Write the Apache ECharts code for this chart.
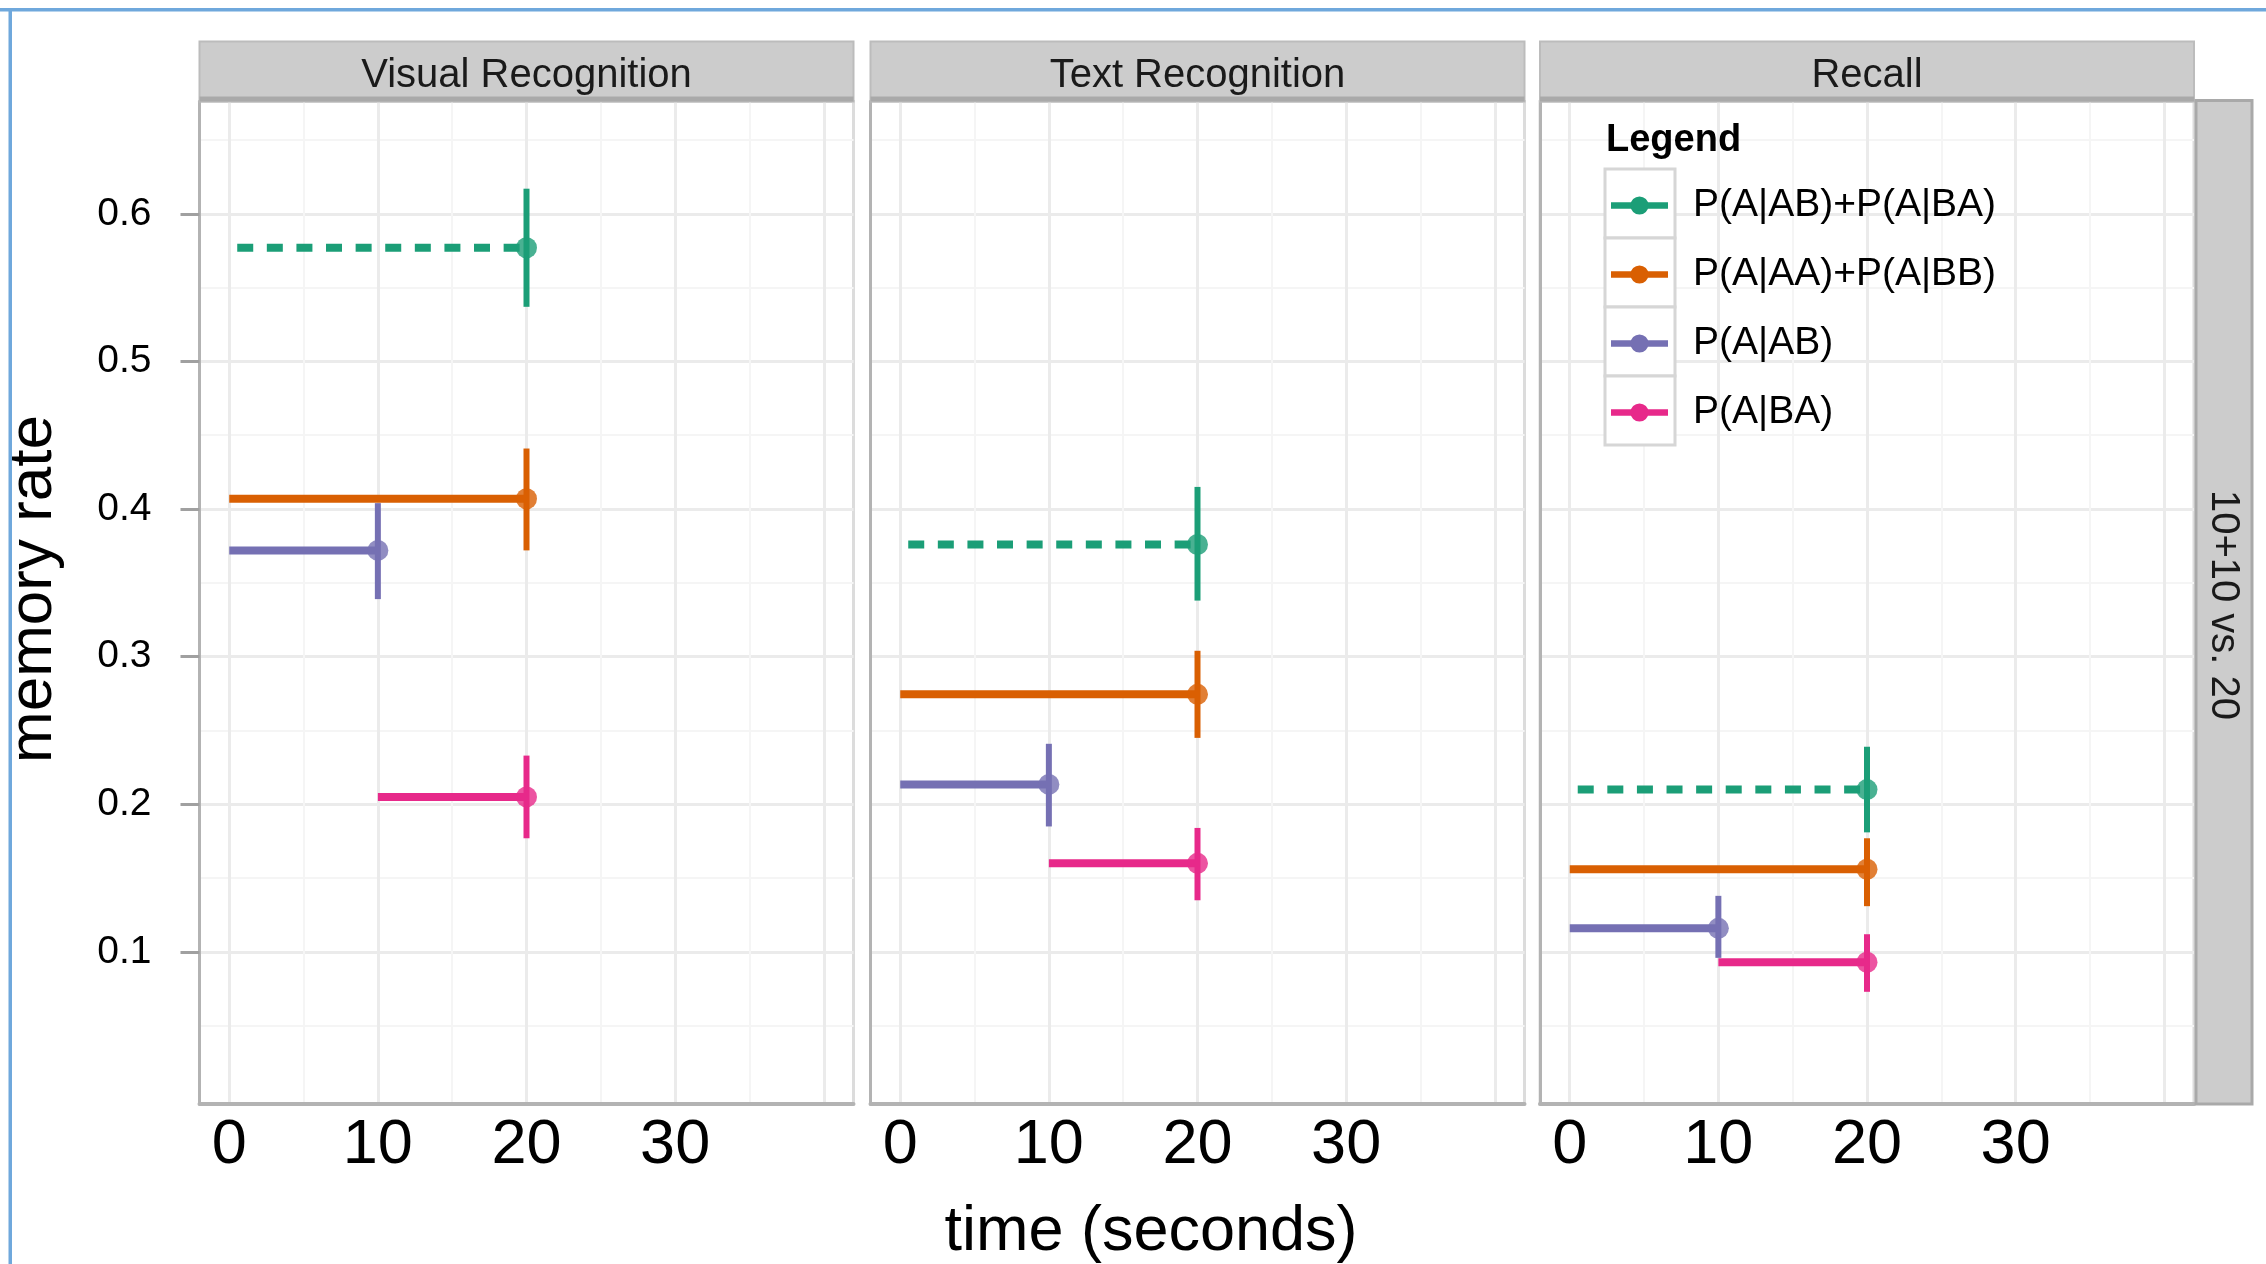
<!DOCTYPE html>
<html>
<head>
<meta charset="utf-8">
<script src="https://cdn.jsdelivr.net/npm/echarts@6/dist/echarts.min.js"></script>
<style>
html,body{margin:0;padding:0;background:#ffffff;}
#chart{width:2266px;height:1264px;}
</style>
</head>
<body>
<div id="chart"></div>
<script>
// ---------------- data ----------------
const panels = ['Visual Recognition', 'Text Recognition', 'Recall'];
const rowLabel = '10+10 vs. 20';
const groups = ['P(A|AB)+P(A|BA)', 'P(A|AA)+P(A|BB)', 'P(A|AB)', 'P(A|BA)'];
const startTimes = [0, 0, 0, 10];
const endTimes = [20, 20, 10, 20];

const visualRate = [0.577, 0.407, 0.372, 0.205];
const visualLow  = [0.537, 0.372, 0.339, 0.177];
const visualHigh = [0.617, 0.441, 0.404, 0.233];

const textRate = [0.376, 0.2745, 0.2135, 0.160];
const textLow  = [0.338, 0.245, 0.185, 0.135];
const textHigh = [0.415, 0.304, 0.241, 0.184];

const recallRate = [0.210, 0.156, 0.116, 0.093];
const recallLow  = [0.181, 0.131, 0.096, 0.073];
const recallHigh = [0.239, 0.177, 0.138, 0.112];

const xTickLabels = [0, 10, 20, 30];
const xMajorGrid = [0, 10, 20, 30, 40];
const xMinorGrid = [5, 15, 25, 35];
const yTickLabels = [0.1, 0.2, 0.3, 0.4, 0.5, 0.6];
const yMinorGrid = [0.05, 0.15, 0.25, 0.35, 0.45, 0.55, 0.65];

const xTitle = 'time (seconds)';
const yTitle = 'memory rate';
const legendTitle = 'Legend';

// ---------------- style / layout ----------------
const FONT = '"Liberation Sans", Arial, Helvetica, sans-serif';
const colors = ['#1b9e77', '#d95f02', '#7570b3', '#e7298a'];
const panelLeft = [199.5, 870.5, 1540];
const panelWidth = 654;
const panelTop = 101.6;
const panelBottom = 1104;
const stripTop = 41.5;
const xRange = [-2, 42];
const yRange = [-0.003, 0.676];

const rates = [visualRate, textRate, recallRate];
const lows = [visualLow, textLow, recallLow];
const highs = [visualHigh, textHigh, recallHigh];

const chart = echarts.init(document.getElementById('chart'), null, {renderer: 'canvas'});

const grids = [], xAxes = [], yAxes = [], series = [];
for (let p = 0; p < panels.length; p++) {
  grids.push({
    left: panelLeft[p], top: panelTop, width: panelWidth, height: panelBottom - panelTop,
    show: true, backgroundColor: '#ffffff', borderColor: '#dcdcdc', borderWidth: 3
  });
  xAxes.push({
    gridIndex: p, type: 'value', min: xRange[0], max: xRange[1], position: 'bottom',
    axisLine: {show: true, onZero: false, lineStyle: {color: '#b3b3b3', width: 4}},
    axisTick: {show: false, customValues: xMajorGrid},
    axisLabel: {customValues: xTickLabels, fontSize: 63, color: '#000', margin: 10, fontFamily: FONT},
    splitLine: {show: true, lineStyle: {color: '#ebebeb', width: 3}}
  });
  xAxes.push({
    gridIndex: p, type: 'value', min: xRange[0], max: xRange[1], position: 'top',
    axisLine: {show: false}, axisTick: {show: false, customValues: xMinorGrid},
    axisLabel: {show: false},
    splitLine: {show: true, lineStyle: {color: '#f5f5f5', width: 2}}
  });
  yAxes.push({
    gridIndex: p, type: 'value', min: yRange[0], max: yRange[1], position: 'left',
    axisLine: {show: true, onZero: false, lineStyle: {color: '#b3b3b3', width: 3}},
    axisTick: {show: p === 0, length: 19, lineStyle: {color: '#a0a0a0', width: 3}, customValues: yTickLabels},
    axisLabel: {show: p === 0, customValues: yTickLabels, fontSize: 39, color: '#000', margin: 48,
                fontFamily: FONT, padding: [10, 0, 0, 0]},
    splitLine: {show: true, lineStyle: {color: '#ebebeb', width: 3}}
  });
  yAxes.push({
    gridIndex: p, type: 'value', min: yRange[0], max: yRange[1], position: 'right',
    axisLine: {show: false}, axisTick: {show: false, customValues: yMinorGrid},
    axisLabel: {show: false},
    splitLine: {show: true, lineStyle: {color: '#f5f5f5', width: 2}}
  });

  for (let g = 0; g < groups.length; g++) {
    const c = colors[g];
    const r = rates[p][g];
    series.push({
      type: 'line', name: groups[g], xAxisIndex: 2 * p, yAxisIndex: 2 * p,
      data: [[startTimes[g], r], [endTimes[g], r]],
      symbol: 'none', silent: true, z: 2,
      itemStyle: {color: c},
      lineStyle: g === 0
        ? {color: c, width: 8, type: [16, 13.6], dashOffset: 21.6, cap: 'butt'}
        : {color: c, width: 8, type: 'solid', cap: 'butt'}
    });
    series.push({
      type: 'custom', name: groups[g], xAxisIndex: 2 * p, yAxisIndex: 2 * p,
      data: [[endTimes[g], lows[p][g], highs[p][g]]],
      encode: {x: 0, y: [1, 2]}, silent: true, z: 3,
      itemStyle: {color: c},
      renderItem: (params, api) => {
        const a = api.coord([api.value(0), api.value(1)]);
        const b = api.coord([api.value(0), api.value(2)]);
        return {type: 'line', shape: {x1: a[0], y1: a[1], x2: b[0], y2: b[1]},
                style: {stroke: c, lineWidth: 6}};
      }
    });
    series.push({
      type: 'scatter', name: groups[g], xAxisIndex: 2 * p, yAxisIndex: 2 * p,
      data: [[endTimes[g], r]], symbol: 'circle', symbolSize: 21, silent: true, z: 4,
      itemStyle: {color: c}
    });
  }
}

const graphics = [];
graphics.push({type: 'rect', z: 10, shape: {x: 0, y: 8, width: 2266, height: 3.5}, style: {fill: '#6fa8dc'}});
graphics.push({type: 'rect', z: 10, shape: {x: 8.5, y: 8, width: 3.5, height: 1256}, style: {fill: '#6fa8dc'}});

for (let p = 0; p < panels.length; p++) {
  graphics.push({type: 'rect', z: 5, shape: {x: panelLeft[p], y: stripTop, width: panelWidth, height: panelTop - stripTop},
    style: {fill: '#cccccc', stroke: '#bcbcbc', lineWidth: 2}});
  graphics.push({type: 'rect', z: 6, shape: {x: panelLeft[p], y: panelTop - 5, width: panelWidth, height: 5},
    style: {fill: '#a9a9a9'}});
  graphics.push({type: 'text', z: 7, x: panelLeft[p] + panelWidth / 2, y: (stripTop + panelTop) / 2 + 4,
    style: {text: panels[p], fontSize: 40, fontFamily: FONT, fill: '#1a1a1a', align: 'center', verticalAlign: 'middle'}});
}
graphics.push({type: 'rect', z: 5, shape: {x: 2196, y: 100.4, width: 56, height: panelBottom - 100.4},
  style: {fill: '#cccccc', stroke: '#a9a9a9', lineWidth: 3}});
graphics.push({type: 'text', z: 7, x: 2223, y: 605, rotation: -Math.PI / 2,
  style: {text: rowLabel, fontSize: 40, fontFamily: FONT, fill: '#1a1a1a', align: 'center', verticalAlign: 'middle'}});

graphics.push({type: 'text', z: 7, x: 34, y: 589, rotation: Math.PI / 2,
  style: {text: yTitle, fontSize: 62, fontFamily: FONT, fill: '#000', align: 'center', verticalAlign: 'middle'}});
graphics.push({type: 'text', z: 7, x: 1151, y: 1233,
  style: {text: xTitle, fontSize: 63, fontFamily: FONT, fill: '#000', align: 'center', verticalAlign: 'middle'}});

graphics.push({type: 'text', z: 7, x: 1606, y: 141,
  style: {text: legendTitle, fontSize: 38, fontWeight: 'bold', fontFamily: FONT, fill: '#000', align: 'left', verticalAlign: 'middle'}});
for (let g = 0; g < groups.length; g++) {
  graphics.push({type: 'rect', z: 3, shape: {x: 1605, y: 169 + 69 * g, width: 70, height: 69},
    style: {fill: '#ffffff', stroke: '#d6d6d6', lineWidth: 3}});
}

const legendIcon = 'path://M0,6.5H60V13.5H0Z M30,0.5A9.5,9.5 0 1,1 30,19.5A9.5,9.5 0 1,1 30,0.5Z';

chart.setOption({
  animation: false,
  backgroundColor: '#ffffff',
  textStyle: {fontFamily: FONT},
  grid: grids,
  xAxis: xAxes,
  yAxis: yAxes,
  series: series,
  legend: {
    show: true, orient: 'vertical', left: 1611, top: 186, padding: 0,
    itemWidth: 57, itemHeight: 20, itemGap: 30, icon: legendIcon, selectedMode: false, z: 8,
    textStyle: {fontSize: 39, color: '#000', lineHeight: 20, padding: [0, 0, 0, 20], fontFamily: FONT},
    data: groups.map((n, i) => ({name: n, itemStyle: {color: colors[i]}}))
  },
  graphic: graphics
});
</script>
</body>
</html>
